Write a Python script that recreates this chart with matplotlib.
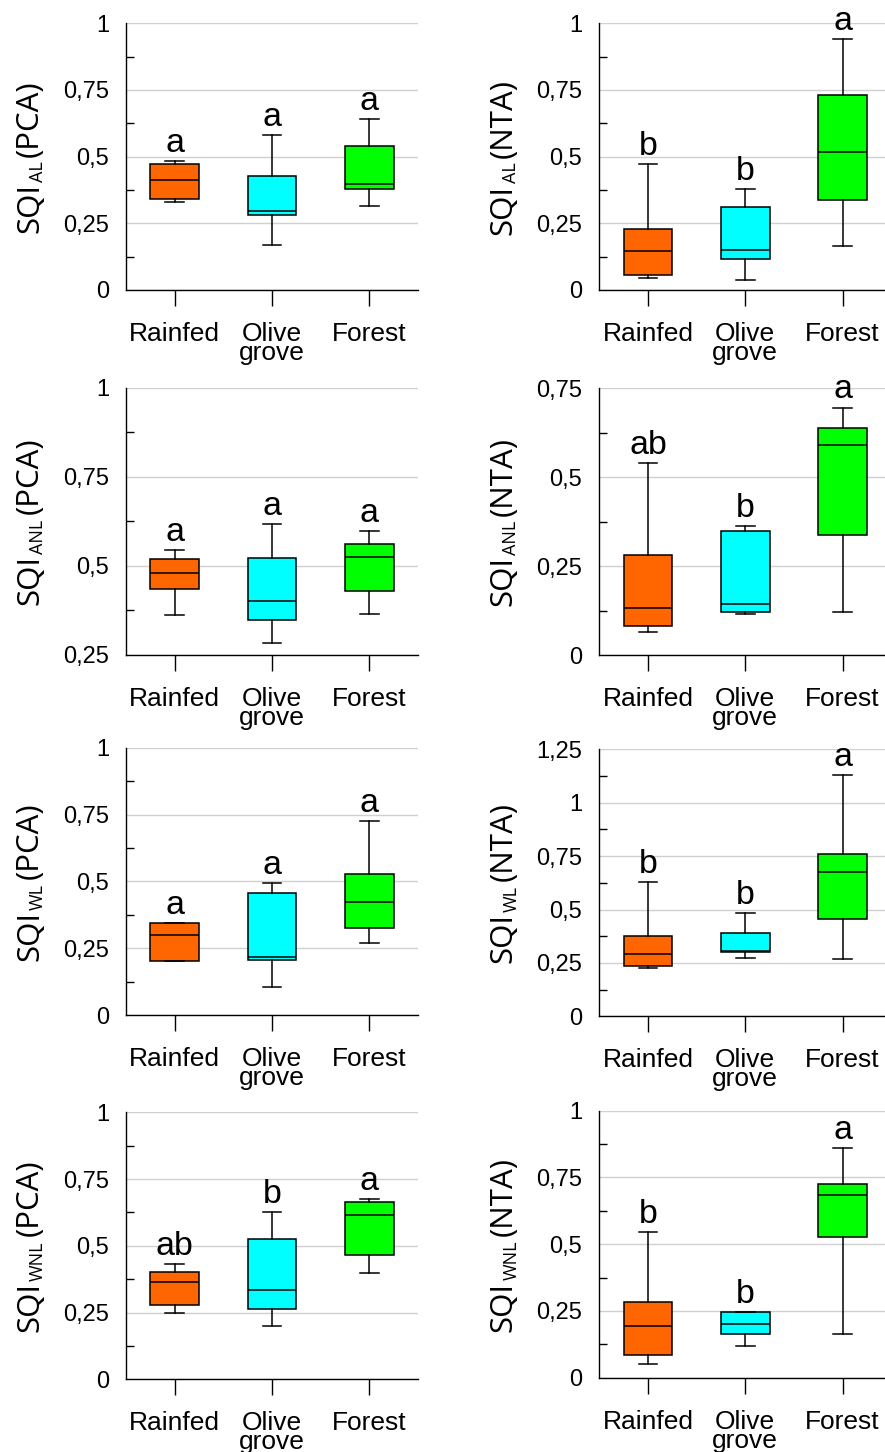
import matplotlib
matplotlib.use('Agg')
import matplotlib.pyplot as plt
from matplotlib.ticker import MultipleLocator, FuncFormatter

W, H = 885, 1452

categories = ['Rainfed', 'Olive\ngrove', 'Forest']
box_colors = ['#FF6600', '#00FFFF', '#00FF00']

# ---- data: whisker low, Q1, median, Q3, whisker high (Rainfed, Olive grove, Forest)
al_pca_low = [0.329, 0.169, 0.314]
al_pca_q1 = [0.342, 0.281, 0.378]
al_pca_med = [0.412, 0.295, 0.396]
al_pca_q3 = [0.471, 0.429, 0.539]
al_pca_high = [0.484, 0.581, 0.640]
al_pca_letters = ['a', 'a', 'a']

al_nta_low = [0.046, 0.037, 0.166]
al_nta_q1 = [0.057, 0.116, 0.336]
al_nta_med = [0.146, 0.151, 0.519]
al_nta_q3 = [0.227, 0.312, 0.732]
al_nta_high = [0.472, 0.378, 0.941]
al_nta_letters = ['b', 'b', 'a']

anl_pca_low = [0.363, 0.283, 0.365]
anl_pca_q1 = [0.434, 0.347, 0.430]
anl_pca_med = [0.480, 0.401, 0.526]
anl_pca_q3 = [0.520, 0.522, 0.562]
anl_pca_high = [0.544, 0.617, 0.599]
anl_pca_letters = ['a', 'a', 'a']

anl_nta_low = [0.066, 0.117, 0.122]
anl_nta_q1 = [0.082, 0.123, 0.337]
anl_nta_med = [0.134, 0.143, 0.591]
anl_nta_q3 = [0.282, 0.350, 0.638]
anl_nta_high = [0.541, 0.362, 0.696]
anl_nta_letters = ['ab', 'b', 'a']

wl_pca_low = [0.203, 0.106, 0.271]
wl_pca_q1 = [0.203, 0.204, 0.327]
wl_pca_med = [0.299, 0.218, 0.424]
wl_pca_q3 = [0.343, 0.455, 0.529]
wl_pca_high = [0.345, 0.493, 0.727]
wl_pca_letters = ['a', 'a', 'a']

wl_nta_low = [0.225, 0.275, 0.268]
wl_nta_q1 = [0.237, 0.302, 0.456]
wl_nta_med = [0.290, 0.306, 0.677]
wl_nta_q3 = [0.378, 0.392, 0.760]
wl_nta_high = [0.629, 0.484, 1.131]
wl_nta_letters = ['b', 'b', 'a']

wnl_pca_low = [0.248, 0.201, 0.397]
wnl_pca_q1 = [0.278, 0.262, 0.464]
wnl_pca_med = [0.363, 0.333, 0.615]
wnl_pca_q3 = [0.403, 0.524, 0.665]
wnl_pca_high = [0.433, 0.627, 0.677]
wnl_pca_letters = ['ab', 'b', 'a']

wnl_nta_low = [0.051, 0.117, 0.165]
wnl_nta_q1 = [0.085, 0.162, 0.526]
wnl_nta_med = [0.192, 0.202, 0.685]
wnl_nta_q3 = [0.283, 0.247, 0.725]
wnl_nta_high = [0.544, 0.247, 0.861]
wnl_nta_letters = ['b', 'b', 'a']

panels = [
    ('AL', 'PCA', (0, 1.0), al_pca_low, al_pca_q1, al_pca_med, al_pca_q3, al_pca_high, al_pca_letters),
    ('AL', 'NTA', (0, 1.0), al_nta_low, al_nta_q1, al_nta_med, al_nta_q3, al_nta_high, al_nta_letters),
    ('ANL', 'PCA', (0.25, 1.0), anl_pca_low, anl_pca_q1, anl_pca_med, anl_pca_q3, anl_pca_high, anl_pca_letters),
    ('ANL', 'NTA', (0, 0.75), anl_nta_low, anl_nta_q1, anl_nta_med, anl_nta_q3, anl_nta_high, anl_nta_letters),
    ('WL', 'PCA', (0, 1.0), wl_pca_low, wl_pca_q1, wl_pca_med, wl_pca_q3, wl_pca_high, wl_pca_letters),
    ('WL', 'NTA', (0, 1.25), wl_nta_low, wl_nta_q1, wl_nta_med, wl_nta_q3, wl_nta_high, wl_nta_letters),
    ('WNL', 'PCA', (0, 1.0), wnl_pca_low, wnl_pca_q1, wnl_pca_med, wnl_pca_q3, wnl_pca_high, wnl_pca_letters),
    ('WNL', 'NTA', (0, 1.0), wnl_nta_low, wnl_nta_q1, wnl_nta_med, wnl_nta_q3, wnl_nta_high, wnl_nta_letters),
]

# ---- layout (pixels)
col_x = [126, 599.3]
row_tb = [[(23.3, 290.0), (23.3, 290.0)],
          [(387.7, 655.0), (388.3, 655.3)],
          [(747.7, 1015.0), (749.3, 1016.3)],
          [(1112.3, 1379.3), (1110.7, 1377.7)]]
ax_w = 292

plt.rcParams['font.family'] = ['Liberation Sans', 'DejaVu Sans']

fig = plt.figure(figsize=(W / 100, H / 100), dpi=100)
fig.patch.set_facecolor('white')

fmt = FuncFormatter(lambda v, p: ('%g' % round(v, 4)).replace('.', ','))

axes = []
for i, (sub, method, ylim, lo, q1, med, q3, hi, letters) in enumerate(panels):
    r, c = divmod(i, 2)
    top, bot = row_tb[r][c]
    ax = fig.add_axes([col_x[c] / W, 1 - bot / H, ax_w / W, (bot - top) / H])
    axes.append(ax)
    stats = []
    for k in range(3):
        stats.append(dict(whislo=lo[k], q1=q1[k], med=med[k], q3=q3[k], whishi=hi[k], fliers=[]))
    bp = ax.bxp(stats, positions=[1, 2, 3], widths=0.5, capwidths=0.19,
                patch_artist=True, showfliers=False,
                boxprops=dict(edgecolor='black', linewidth=1.1),
                medianprops=dict(color='black', linewidth=1.1),
                whiskerprops=dict(color='black', linewidth=1.1),
                capprops=dict(color='black', linewidth=1.1))
    for patch, col in zip(bp['boxes'], box_colors):
        patch.set_facecolor(col)
    for k in range(3):
        ax.annotate(letters[k], xy=(k + 1, hi[k]), xytext=(0, 6.5), textcoords='offset points',
                    ha='center', va='baseline', fontsize=24.5, color='black')
    ax.set_xlim(0.5, 3.5)
    ax.set_ylim(*ylim)
    ax.yaxis.set_major_locator(MultipleLocator(0.25))
    ax.yaxis.set_minor_locator(MultipleLocator(0.125))
    ax.yaxis.set_major_formatter(fmt)
    ax.set_xticks([1, 2, 3])
    ax.set_xticklabels(categories)
    for lab in ax.get_xticklabels():
        lab.set_linespacing(0.75)
    ax.tick_params(axis='y', which='major', length=0, pad=12.3, labelsize=17)
    ax.tick_params(axis='y', which='minor', direction='in', length=6, width=1.0)
    ax.tick_params(axis='x', which='major', direction='out', length=11.5, width=1.0, pad=11.5, labelsize=19)
    ax.grid(axis='y', which='major', color='#d0d0d0', linewidth=1.0)
    ax.set_axisbelow(True)
    for s in ['top', 'right']:
        ax.spines[s].set_visible(False)
    for s in ['left', 'bottom']:
        ax.spines[s].set_linewidth(1.0)
        ax.spines[s].set_color('black')
    ax.set_facecolor('none')

# ---- y labels built from pieces: SQI + subscript + (method)
renderer = fig.canvas.get_renderer()
main_size = 22.5
sub_size = 13
lab_font = ['Open Sans', 'DejaVu Sans']
for ax, (sub, method, *_rest) in zip(axes, panels):
    pos = ax.get_position()
    xb = pos.x0 * W - 88.0
    yc = (pos.y0 + pos.height / 2) * H
    kw = dict(rotation=90, rotation_mode='anchor', ha='left', va='baseline', family=lab_font, color='black')
    t1 = fig.text(xb / W, 0, 'SQI', fontsize=main_size, **kw)
    t2 = fig.text((xb + 5) / W, 0, sub, fontsize=sub_size, **kw)
    t3 = fig.text(xb / W, 0, '(' + method + ')', fontsize=main_size, **kw)
    L1 = t1.get_window_extent(renderer).height
    L2 = t2.get_window_extent(renderer).height
    L3 = t3.get_window_extent(renderer).height
    g1, g2 = 1.0, 5.0
    total = L1 + g1 + L2 + g2 + L3
    y0 = yc - total / 2
    t1.set_y(y0 / H)
    t2.set_y((y0 + L1 + g1) / H)
    t3.set_y((y0 + L1 + g1 + L2 + g2) / H)

fig.savefig('out.png', dpi=100, facecolor='white')
